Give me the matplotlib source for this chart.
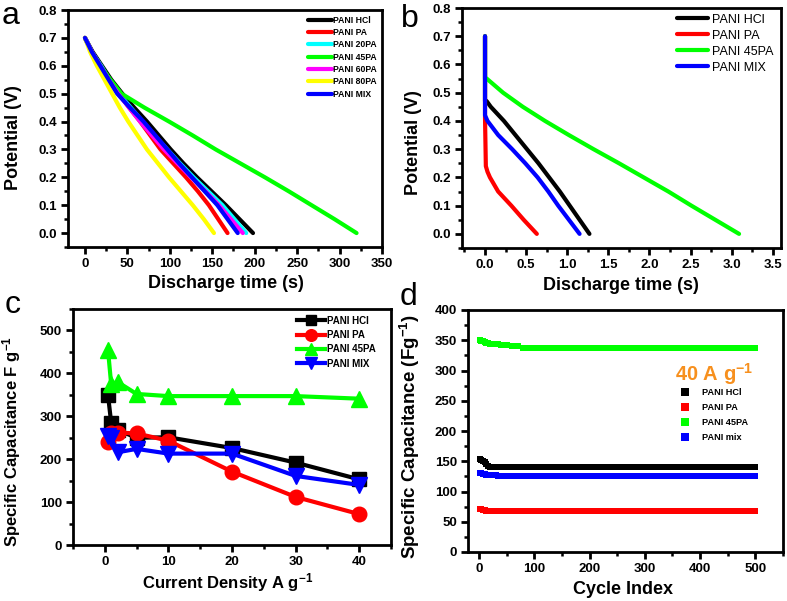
import matplotlib
matplotlib.use("Agg")
import matplotlib.pyplot as plt
from matplotlib.ticker import MultipleLocator

plt.rcParams['font.family'] = ['Liberation Sans', 'DejaVu Sans']
plt.rcParams['mathtext.default'] = 'regular'

# ---------------- Panel a data ----------------
a_labels = ['PANI HCl', 'PANI PA', 'PANI 20PA', 'PANI 45PA', 'PANI 60PA', 'PANI 80PA', 'PANI MIX']
a_colors = ['#000000', '#ff0000', '#00ffff', '#00ff00', '#ff00ff', '#ffff00', '#0000ff']
a_V = [0.70, 0.65, 0.60, 0.55, 0.50, 0.45, 0.40, 0.35, 0.30, 0.25, 0.20, 0.15, 0.10, 0.05, 0.00]
a_hcl = [0, 9, 20, 31, 44, 58, 73, 87, 101, 116, 132, 149, 166, 182, 198]
a_pa = [0, 8, 18, 29, 40, 52, 65, 77, 89, 104, 119, 133, 146, 157, 168]
a_20pa = [0, 8, 19, 29, 40, 54, 68, 82, 97, 112, 128, 145, 162, 176, 190]
a_45pa = [0, 8, 18, 30, 43, 70, 99, 127, 154, 183, 212, 240, 267, 294, 320]
a_60pa = [0, 8, 18, 28, 39, 52, 65, 79, 93, 109, 125, 142, 158, 172, 186]
a_80pa = [0, 6, 14, 23, 32, 41, 51, 62, 73, 86, 99, 113, 127, 140, 152]
a_mix = [0, 8, 18, 28, 38, 53, 69, 83, 97, 111, 126, 141, 156, 168, 180]
a_series = [a_hcl, a_pa, a_20pa, a_45pa, a_60pa, a_80pa, a_mix]

# ---------------- Panel b data ----------------
b_labels = ['PANI HCl', 'PANI PA', 'PANI 45PA', 'PANI MIX']
b_colors = ['#000000', '#ff0000', '#00ff00', '#0000ff']
b_hcl_t = [0, 0.0, 0.02, 0.07, 0.23, 0.37, 0.51, 0.65, 0.78, 0.91, 1.03, 1.15, 1.27]
b_hcl_v = [0.70, 0.47, 0.47, 0.45, 0.40, 0.35, 0.30, 0.25, 0.20, 0.15, 0.10, 0.05, 0.00]
b_pa_t = [0, 0.0, 0.01, 0.03, 0.06, 0.10, 0.16, 0.32, 0.47, 0.63]
b_pa_v = [0.70, 0.41, 0.24, 0.22, 0.20, 0.18, 0.15, 0.10, 0.05, 0.00]
b_45pa_t = [0, 0.0, 0.02, 0.22, 0.46, 0.73, 1.02, 1.32, 1.63, 1.93, 2.23, 2.51, 2.80, 3.09]
b_45pa_v = [0.70, 0.55, 0.55, 0.50, 0.45, 0.40, 0.35, 0.30, 0.25, 0.20, 0.15, 0.10, 0.05, 0.00]
b_mix_t = [0, 0.0, 0.03, 0.16, 0.33, 0.49, 0.64, 0.77, 0.89, 1.02, 1.15]
b_mix_v = [0.70, 0.42, 0.40, 0.35, 0.30, 0.25, 0.20, 0.15, 0.10, 0.05, 0.00]
b_t = [b_hcl_t, b_pa_t, b_45pa_t, b_mix_t]
b_v = [b_hcl_v, b_pa_v, b_45pa_v, b_mix_v]

# ---------------- Panel c data ----------------
c_x = [0.5, 1, 2, 5, 10, 20, 30, 40]
c_hcl = [350, 285, 268, 250, 251, 226, 192, 153]
c_pa = [239, 262, 262, 260, 243, 171, 112, 72]
c_45pa = [455, 375, 380, 352, 347, 347, 347, 341]
c_mix = [255, 249, 216, 224, 213, 213, 161, 140]
c_labels = ['PANI HCl', 'PANI PA', 'PANI 45PA', 'PANI MIX']
c_colors = ['#000000', '#ff0000', '#00ff00', '#0000ff']
c_markers = ['s', 'o', '^', 'v']

# ---------------- Panel d data ----------------
d_cycles = [1, 4, 7, 10, 13, 16, 20, 25, 30, 35, 40, 50, 60, 70, 80, 90, 100,
            110, 120, 130, 140, 150, 160, 170, 180, 190, 200, 210, 220, 230, 240,
            250, 260, 270, 280, 290, 300, 310, 320, 330, 340, 350, 360, 370, 380,
            390, 400, 410, 420, 430, 440, 450, 460, 470, 480, 490, 500]
d_hcl = [153, 152, 151, 149, 146, 142, 141, 141, 141, 141, 141, 141, 141, 141, 141, 141, 141,
         141, 141, 141, 141, 141, 141, 141, 141, 141, 141, 141, 141, 141, 141,
         141, 141, 141, 141, 141, 141, 141, 141, 141, 141, 141, 141, 141, 141,
         141, 141, 141, 141, 141, 141, 141, 141, 141, 141, 141, 141]
d_pa = [71, 71, 70, 69, 68, 68, 68, 68, 68, 68, 68, 68, 68, 68, 68, 68, 68,
        68, 68, 68, 68, 68, 68, 68, 68, 68, 68, 68, 68, 68, 68,
        68, 68, 68, 68, 68, 68, 68, 68, 68, 68, 68, 68, 68, 68,
        68, 68, 68, 68, 68, 68, 68, 68, 68, 68, 68, 68]
d_45pa = [350, 349, 348, 347, 346, 345, 344, 344, 343, 343, 342, 342, 341, 340, 338, 337, 337,
          337, 337, 337, 337, 337, 337, 337, 337, 337, 337, 337, 337, 337, 337,
          337, 337, 337, 337, 337, 337, 337, 337, 337, 337, 337, 337, 337, 337,
          337, 337, 337, 337, 337, 337, 337, 337, 337, 337, 337, 337]
d_mix = [130, 130, 129, 129, 128, 128, 128, 128, 127, 126, 126, 126, 126, 126, 126, 126, 126,
         126, 126, 126, 126, 126, 126, 126, 126, 126, 126, 126, 126, 126, 126,
         126, 126, 126, 126, 126, 126, 126, 126, 126, 126, 126, 126, 126, 126,
         126, 126, 126, 126, 126, 126, 126, 126, 126, 126, 126, 126]
d_labels = ['PANI HCl', 'PANI PA', 'PANI 45PA', 'PANI mix']
d_colors = ['#000000', '#ff0000', '#00ff00', '#0000ff']
d_series = [d_hcl, d_pa, d_45pa, d_mix]

W, H = 787, 601
fig = plt.figure(figsize=(W / 100, H / 100), dpi=100)


def add_ax(l, r, t, b):
    return fig.add_axes([l / W, 1 - b / H, (r - l) / W, (b - t) / H])


def style(ax, xmaj, xmin, ymaj, ymin):
    for s in ax.spines.values():
        s.set_linewidth(2.0)
    ax.xaxis.set_major_locator(MultipleLocator(xmaj))
    ax.xaxis.set_minor_locator(MultipleLocator(xmin))
    ax.yaxis.set_major_locator(MultipleLocator(ymaj))
    ax.yaxis.set_minor_locator(MultipleLocator(ymin))
    ax.tick_params(which='major', direction='out', length=5, width=2, labelsize=9.5, pad=3)
    ax.tick_params(which='minor', direction='out', length=3, width=1.8)
    for lab in ax.get_xticklabels() + ax.get_yticklabels():
        lab.set_fontweight('bold')


bold = dict(fontweight='bold')

# ---------- a ----------
ax = add_ax(68, 382, 10, 247)
for t, lab, col in zip(a_series, a_labels, a_colors):
    ax.plot(t, a_V, color=col, lw=3, label=lab, solid_capstyle='round', solid_joinstyle='round')
ax.set_xlim(-20, 350)
ax.set_ylim(-0.05, 0.8)
style(ax, 50, 25, 0.1, 0.05)
ax.yaxis.set_major_formatter(plt.FormatStrFormatter('%.1f'))
ax.set_xlabel('Discharge time (s)', fontsize=13, **bold)
ax.set_ylabel('Potential (V)', fontsize=13, **bold)
ax.xaxis.set_label_coords(0.503, -0.12)
ax.yaxis.set_label_coords(-0.146, 0.46)
ax.legend(loc='upper left', bbox_to_anchor=(0.764, 0.975), frameon=False,
          prop=dict(size=6.2, weight='bold'), handlelength=2.8, handletextpad=0.1,
          labelspacing=0.38, borderpad=0, borderaxespad=0)

# ---------- b ----------
ax = add_ax(462, 781, 8, 248)
for t, v, lab, col in zip(b_t, b_v, b_labels, b_colors):
    ax.plot(t, v, color=col, lw=3, label=lab, solid_capstyle='round', solid_joinstyle='round')
ax.set_xlim(-0.28, 3.6)
ax.set_ylim(-0.05, 0.8)
style(ax, 0.5, 0.25, 0.1, 0.05)
ax.yaxis.set_major_formatter(plt.FormatStrFormatter('%.1f'))
ax.xaxis.set_major_formatter(plt.FormatStrFormatter('%.1f'))
ax.set_xlabel('Discharge time (s)', fontsize=13, **bold)
ax.set_ylabel('Potential (V)', fontsize=13, **bold)
ax.xaxis.set_label_coords(0.498, -0.12)
ax.yaxis.set_label_coords(-0.125, 0.44)
ax.legend(loc='upper left', bbox_to_anchor=(0.674, 0.977), frameon=False,
          prop=dict(size=9), handlelength=2.5, handletextpad=0.3,
          labelspacing=0.32, borderpad=0, borderaxespad=0)

# ---------- c ----------
ax = add_ax(73, 391, 309, 545)
msz = {'s': 9.5, 'o': 10.5, '^': 11, 'v': 11}
for y, lab, col, m in zip([c_hcl, c_pa, c_45pa, c_mix], c_labels, c_colors, c_markers):
    ax.plot(c_x, y, color=col, lw=3, marker=m, ms=msz[m], mec=col, label=lab)
ax.set_xlim(-5, 45)
ax.set_ylim(0, 550)
style(ax, 10, 5, 100, 50)
ax.set_xlabel('Current Density A g$^{-1}$', fontsize=12, **bold)
ax.set_ylabel('Specific Capacitance F g$^{-1}$', fontsize=12, **bold)
ax.xaxis.set_label_coords(0.487, -0.11)
ax.yaxis.set_label_coords(-0.157, 0.44)
ax.legend(loc='upper left', bbox_to_anchor=(0.704, 0.972), frameon=False,
          prop=dict(size=7, weight='bold'), handlelength=2.9, handletextpad=0.2,
          labelspacing=0.45, borderpad=0, borderaxespad=0, markerscale=0.8)

# ---------- d ----------
ax = add_ax(468, 783, 310, 552)
for y, lab, col in zip(d_series, d_labels, d_colors):
    ax.plot(d_cycles, y, ls='none', marker='s', ms=4.6, mew=0, color=col, label=lab)
ax.set_xlim(-20, 550)
ax.set_ylim(0, 400)
style(ax, 100, 50, 50, 25)
ax.set_xlabel('Cycle Index', fontsize=13, **bold)
ax.set_ylabel('Specific Capacitance (Fg$^{-1}$)', fontsize=13.5, **bold)
ax.xaxis.set_label_coords(0.492, -0.12)
ax.yaxis.set_label_coords(-0.146, 0.475)
ax.legend(loc='upper left', bbox_to_anchor=(0.673, 0.676), frameon=False,
          prop=dict(size=6.6, weight='bold'), handlelength=1.0, handletextpad=1.35,
          labelspacing=0.65, borderpad=0, borderaxespad=0, markerscale=1.3)
ax.text(0.905, 0.735, '40 A g$^{-1}$', transform=ax.transAxes, ha='right', va='center',
        fontsize=14.5, fontweight='bold', color='#f7901e')

# panel letters
fig.text(2 / W, 1 - 24 / H, 'a', fontsize=23)
fig.text(401 / W, 1 - 27 / H, 'b', fontsize=23)
fig.text(5 / W, 1 - 313 / H, 'c', fontsize=23)
fig.text(400 / W, 1 - 305 / H, 'd', fontsize=23)

fig.savefig('out.png', dpi=100)
